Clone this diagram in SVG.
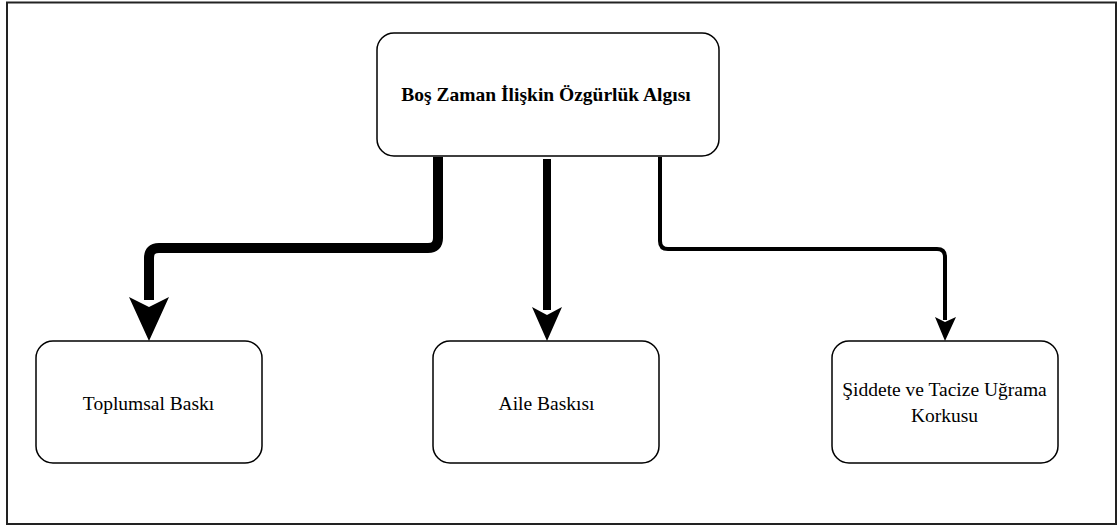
<svg xmlns="http://www.w3.org/2000/svg" width="1119" height="527" viewBox="0 0 1119 527">
<style>
.node{fill:#fff;stroke:#000;stroke-width:1.5}
.t{font-family:"Liberation Serif","Times New Roman",serif;font-size:19.5px;fill:#000;text-anchor:middle}
.b{font-weight:bold}
.c{fill:none;stroke:#000;stroke-linejoin:round}
</style>
<rect x="7" y="2.5" width="1109" height="521.5" fill="#fff" stroke="#222" stroke-width="2"/>
<g id="connectors">
<path class="c" d="M438 157 V238 Q438 248 428 248 H159 Q149 248 149 258 V300" stroke-width="10"/>
<polygon points="129,297 149,307 169,297 149,341"/>
<path class="c" d="M547 159 V310" stroke-width="8"/>
<polygon points="532,307 547,315 562,307 547,341"/>
<path class="c" d="M660 157 V241 Q660 249 668 249 H937 Q945 249 945 257 V320" stroke-width="4"/>
<polygon points="935,317 945,322 956,317 945,341"/>
</g>
<g id="n-top">
<rect class="node" x="377" y="33" width="342" height="123" rx="17"/>
<text class="t b" x="546" y="101">Boş Zaman İlişkin Özgürlük Algısı</text>
</g>
<g id="n-toplumsal">
<rect class="node" x="36" y="341" width="226" height="122" rx="17"/>
<text class="t" x="148.5" y="410">Toplumsal Baskı</text>
</g>
<g id="n-aile">
<rect class="node" x="433" y="341" width="226" height="122" rx="17"/>
<text class="t" x="546.5" y="410">Aile Baskısı</text>
</g>
<g id="n-siddet">
<rect class="node" x="832" y="341" width="226" height="122" rx="17"/>
<text class="t" x="944.5" y="396">Şiddete ve Tacize Uğrama</text>
<text class="t" x="944.5" y="422">Korkusu</text>
</g>
</svg>
